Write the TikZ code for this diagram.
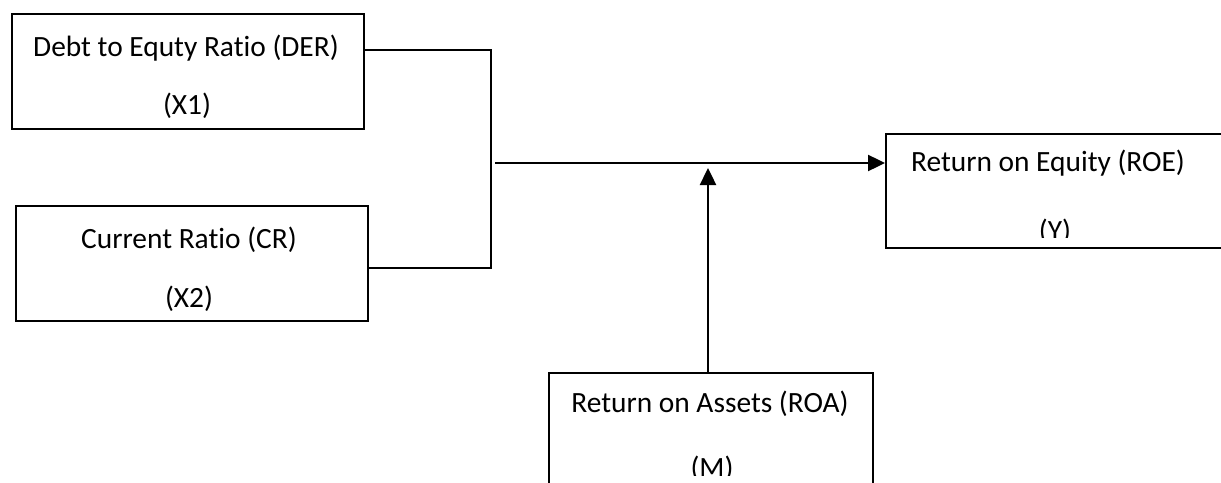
\documentclass[tikz,border=0pt]{standalone}
\usepackage{fontspec}
\setmainfont[Ligatures=NoCommon]{Carlito}
\usetikzlibrary{arrows.meta}
\tikzset{
  box/.style={draw, line width=1.2pt, inner sep=0pt, anchor=north west},
  lbl/.style={font=\fontsize{14.7}{17}\selectfont, inner sep=0pt, anchor=center},
  conn/.style={line width=1.2pt},
  arr/.style={conn, -{Triangle[length=8.5pt,width=8pt]}}
}
\begin{document}
\begin{tikzpicture}[x=0.5pt,y=-0.5pt]
\clip (0,0) rectangle (1221,482);
% boxes
\node[box, minimum width=176pt, minimum height=57.5pt] (der) at (11,13) {};
\node[box, minimum width=176pt, minimum height=57.5pt] (cr) at (15,205) {};
\node[box, minimum width=170pt, minimum height=57pt] (roe) at (885,133) {};
\node[box, minimum width=162pt, minimum height=62pt] (roa) at (548,372) {};
% texts
\node[lbl] (derA) at (186,48) {Debt to Equty Ratio (DER)};
\node[lbl] (derB) at (187,106) {(X1)};
\node[lbl] (crA) at (189,240) {Current Ratio (CR)};
\node[lbl] (crB) at (189,299) {(X2)};
\node[lbl] (roeA) at (1048,163) {Return on Equity (ROE)};
\begin{scope}
\clip (885,133) rectangle (1221,237);
\node[lbl] (roeB) at (1055,232) {(Y)};
\end{scope}
\node[lbl] (roaA) at (710,404) {Return on Assets (ROA)};
\begin{scope}
\clip (548,372) rectangle (872,475);
\node[lbl] (roaB) at (712,469) {(M)};
\end{scope}
% connectors
\coordinate (j1) at (491,50);
\coordinate (j2) at (491,268);
\coordinate (j) at (495,163);
\coordinate (up) at (708,168);
\draw[conn] (der.east |- j1) -- (j1) -- (j2) -- (cr.east |- j2);
\draw[arr] (j) -- (roe.west |- j);
\draw[arr] (up |- roa.north) -- (up);
\end{tikzpicture}
\end{document}
